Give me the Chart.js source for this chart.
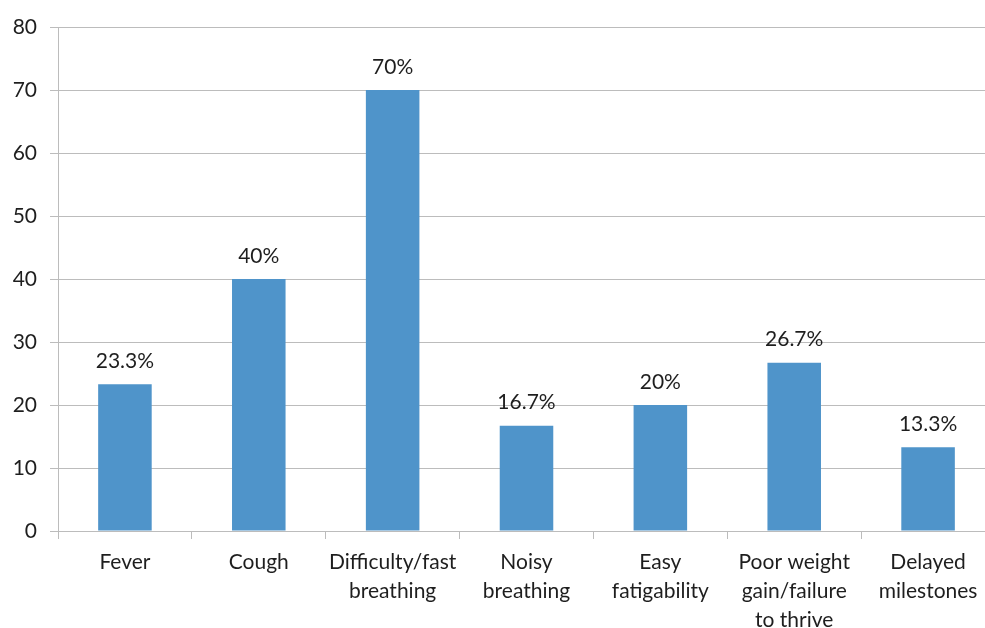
<!DOCTYPE html>
<html>
<head>
<meta charset="utf-8">
<script src="https://cdn.jsdelivr.net/npm/chart.js@4.4.1/dist/chart.umd.min.js"></script>
<style>
  html, body { margin: 0; padding: 0; background: #ffffff; overflow: hidden; }
  #wrap { width: 1000px; height: 628px; }
</style>
</head>
<body>
<div id="wrap"><canvas id="c" width="1000" height="628"></canvas></div>
<script>
// Presenting symptoms, percentage of patients
const categories = [
  ['Fever'],
  ['Cough'],
  ['Difficulty/fast', 'breathing'],
  ['Noisy', 'breathing'],
  ['Easy', 'fatigability'],
  ['Poor weight', 'gain/failure', 'to thrive'],
  ['Delayed', 'milestones']
];
const percentValues = [23.3, 40, 70, 16.7, 20, 26.7, 13.3];
const valueLabels = ['23.3%', '40%', '70%', '16.7%', '20%', '26.7%', '13.3%'];
const yTicks = [0, 10, 20, 30, 40, 50, 60, 70, 80];

const FONT = 'Lato, "Open Sans", "Liberation Sans", sans-serif';
const TEXT = '#1e1e1e';
const GRID = '#bcbcbc';

// Value labels drawn above each bar
const barValueLabels = {
  id: 'barValueLabels',
  afterDatasetsDraw(chart) {
    const ctx = chart.ctx;
    const meta = chart.getDatasetMeta(0);
    ctx.save();
    ctx.font = '21px ' + FONT;
    ctx.fillStyle = TEXT;
    ctx.textAlign = 'center';
    ctx.textBaseline = 'alphabetic';
    meta.data.forEach((bar, i) => {
      ctx.fillText(valueLabels[i], bar.x, bar.y - 16.5);
    });
    ctx.restore();
  }
};

new Chart(document.getElementById('c'), {
  type: 'bar',
  data: {
    labels: categories,
    datasets: [{
      data: percentValues,
      backgroundColor: '#4f94ca',
      borderWidth: 0,
      categoryPercentage: 1.0,
      barPercentage: 0.4
    }]
  },
  options: {
    responsive: false,
    animation: false,
    layout: { padding: { left: 0, top: 27, right: 5, bottom: 0 } },
    plugins: { legend: { display: false }, tooltip: { enabled: false } },
    scales: {
      x: {
        offset: true,
        grid: {
          offset: true,
          drawOnChartArea: false,
          drawTicks: true,
          tickLength: 8,
          color: GRID,
          lineWidth: 1
        },
        border: { display: true, color: GRID, width: 1 },
        ticks: {
          color: TEXT,
          font: { family: FONT, size: 21, lineHeight: 1.38 },
          padding: 9,
          maxRotation: 0,
          autoSkip: false
        },
        afterFit(scale) { scale.height = 97; }
      },
      y: {
        min: 0,
        max: 80,
        afterBuildTicks(scale) { scale.ticks = yTicks.map(v => ({ value: v })); },
        grid: {
          color: GRID,
          lineWidth: 1,
          drawTicks: true,
          tickLength: 8
        },
        border: { display: true, color: GRID, width: 1 },
        ticks: {
          color: TEXT,
          font: { family: FONT, size: 21 },
          padding: 13
        },
        afterFit(scale) { scale.width = 58; }
      }
    }
  },
  plugins: [barValueLabels]
});
</script>
</body>
</html>
